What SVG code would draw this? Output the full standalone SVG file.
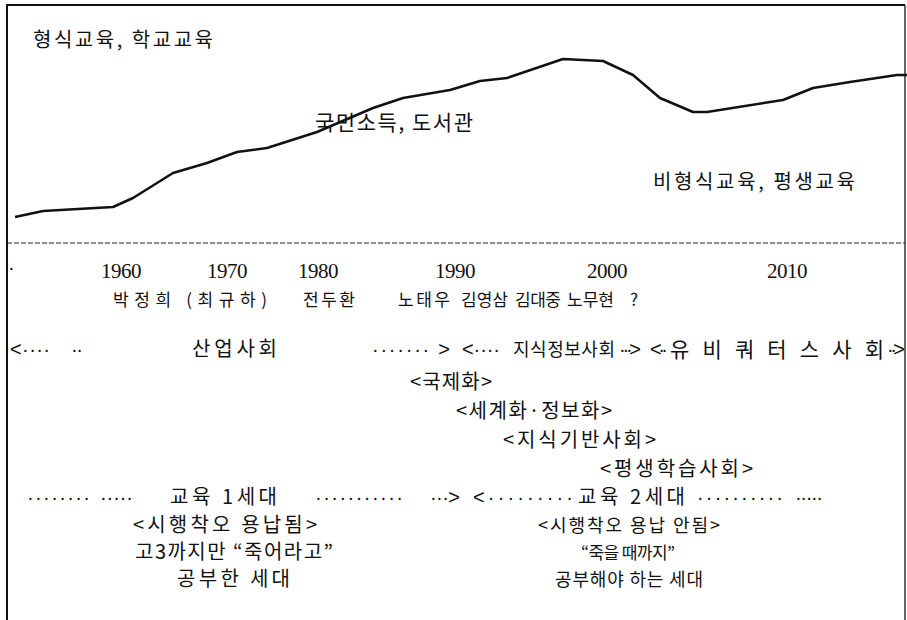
<svg xmlns="http://www.w3.org/2000/svg" width="907" height="620" viewBox="0 0 907 620">
<style>
.k{font-family:"Noto Sans CJK KR","Noto Sans",sans-serif;font-size:20px;fill:#111}
.d{font-family:"Liberation Sans","Noto Sans CJK KR",sans-serif;font-size:20px;fill:#111}
.s{font-size:17px}
.r{font-size:18px}
.y{font-family:"Liberation Serif",serif;font-size:21px;fill:#111;text-anchor:middle;letter-spacing:-0.5px}
.frame{stroke:#111;stroke-width:2;fill:none}
</style>
<rect width="907" height="620" fill="#fff"/>
<g id="frame">
<path class="frame" d="M7,620 V5 H905"/>
<path d="M905,5 V620" stroke="#333" stroke-width="1.5" fill="none"/>
<path d="M7,243 H905" stroke="#222" stroke-width="1.2" stroke-dasharray="5 2" fill="none"/>
</g>
<g id="connectors">
<polyline fill="none" stroke="#111" stroke-width="2.5" stroke-linejoin="round" points="15,217 43,211 113,207 133,198 173,173 207,163 237,152 267,148 317,132 373,108 403,98 450,90 480,81 507,78 563,59 603,61 633,75 660,98 693,112 707,112 783,100 813,88 850,82 897,75 907,75"/>
</g>
<g id="curve-labels">
<text class="k" x="33" y="47" textLength="180">형식교육, 학교교육</text>
<text class="k" x="315" y="130" textLength="158" style="font-size:21px">국민소득, 도서관</text>
<text class="k" x="653" y="189" textLength="202">비형식교육, 평생교육</text>
</g>
<g id="years">
<text class="d" x="8" y="274">·</text>
<text class="y" x="121" y="278">1960</text>
<text class="y" x="227" y="278">1970</text>
<text class="y" x="318" y="278">1980</text>
<text class="y" x="455" y="278">1990</text>
<text class="y" x="607" y="278">2000</text>
<text class="y" x="787" y="278">2010</text>
</g>
<g id="presidents">
<text class="k s" x="113" y="306" textLength="154">박정희 (최규하)</text>
<text class="k s" x="303" y="306" textLength="52">전두환</text>
<text class="k s" x="398" y="306" textLength="52">노태우</text>
<text class="k s" x="461" y="306" textLength="47">김영삼</text>
<text class="k s" x="515" y="306" textLength="46">김대중</text>
<text class="k s" x="567" y="306" textLength="47">노무현</text>
<text class="k s" x="630" y="306">?</text>
</g>
<g id="societies">
<text class="d" x="10" y="356" textLength="40">&lt;····</text>
<text class="d" x="71" y="356" textLength="12">··</text>
<text class="k" x="192" y="356" textLength="85">산업사회</text>
<text class="d" x="372" y="356" textLength="78">······· &gt;</text>
<text class="d" x="462" y="356" textLength="38">&lt;····</text>
<text class="k r" x="513" y="356" textLength="102">지식정보사회</text>
<text class="d" x="619" y="356" textLength="22">···&gt;</text>
<text class="d" x="650" y="356" textLength="18">&lt;··</text>
<text class="k" x="670" y="357" textLength="214" style="font-size:21px">유비쿼터스사회</text>
<text class="d" x="887" y="356" textLength="18">··&gt;</text>
</g>
<g id="stages">
<text class="k" x="410" y="389" textLength="82">&lt;국제화&gt;</text>
<text class="k" x="456" y="418" textLength="156">&lt;세계화·정보화&gt;</text>
<text class="k" x="503" y="447" textLength="153">&lt;지식기반사회&gt;</text>
<text class="k" x="600" y="476" textLength="153">&lt;평생학습사회&gt;</text>
</g>
<g id="gen1">
<text class="d" x="27" y="504" textLength="63">········</text>
<text class="d" x="100" y="504" textLength="33">·····</text>
<text class="k" x="170" y="504" textLength="107">교육 1세대</text>
<text class="d" x="315" y="504" textLength="88">···········</text>
<text class="d" x="430" y="504" textLength="30">···&gt;</text>
<text class="k" x="133" y="532" textLength="184">&lt;시행착오 용납됨&gt;</text>
<text class="k" x="135" y="559" textLength="198">고3까지만 “죽어라고”</text>
<text class="k" x="177" y="586" textLength="113">공부한 세대</text>
</g>
<g id="gen2">
<text class="d" x="473" y="504" textLength="100">&lt;·········</text>
<text class="k" x="578" y="504" textLength="107">교육 2세대</text>
<text class="d" x="697" y="504" textLength="86">··········</text>
<text class="d" x="795" y="504" textLength="28">·····</text>
<text class="k r" x="538" y="532" textLength="182">&lt;시행착오 용납 안됨&gt;</text>
<text class="k s" x="581" y="559" textLength="94">“죽을 때까지”</text>
<text class="k r" x="555" y="586" textLength="148">공부해야 하는 세대</text>
</g>
</svg>
